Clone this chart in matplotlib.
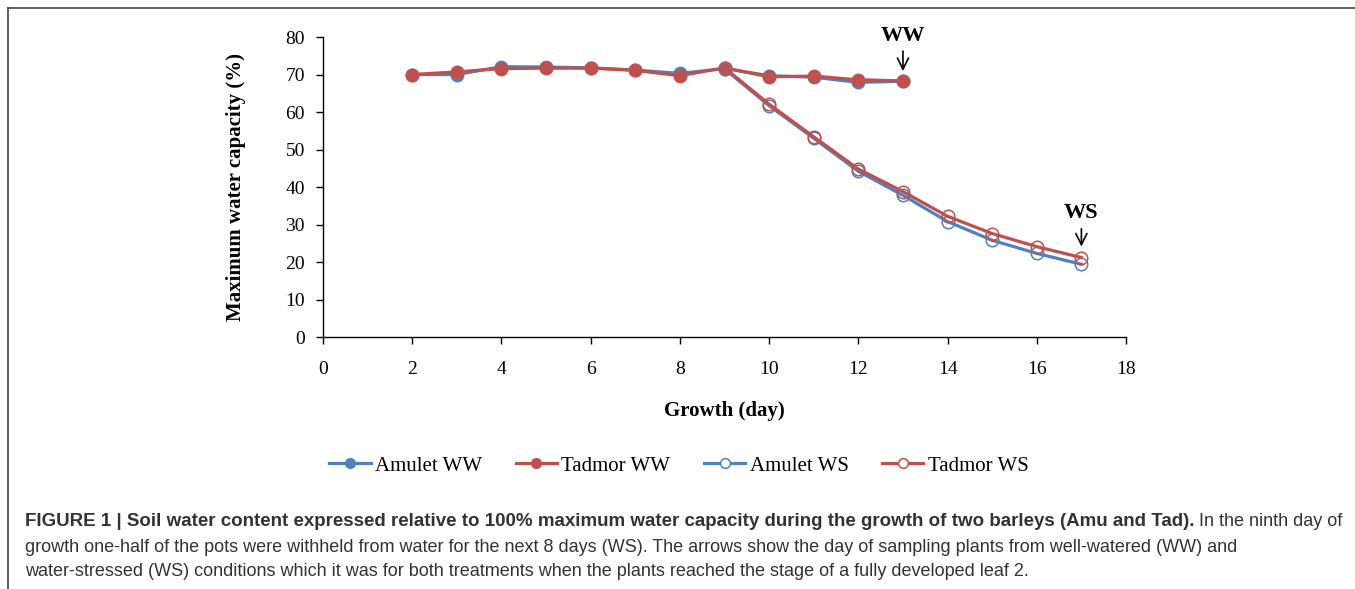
import matplotlib
matplotlib.use("Agg")
import matplotlib.pyplot as plt
from matplotlib.lines import Line2D

# soil water content (% of max water capacity)
days_ww = [2, 3, 4, 5, 6, 7, 8, 9, 10, 11, 12, 13]
amulet_ww = [70.0, 70.0, 72.1, 72.0, 71.8, 71.2, 70.3, 71.6, 69.7, 69.3, 67.9, 68.2]
tadmor_ww = [70.0, 70.7, 71.6, 71.7, 71.7, 71.1, 69.7, 71.8, 69.4, 69.6, 68.6, 68.3]

days_ws = [9, 10, 11, 12, 13, 14, 15, 16, 17]
amulet_ws = [71.5, 61.7, 53.0, 44.2, 37.8, 30.8, 25.8, 22.3, 19.4]
tadmor_ws = [71.8, 62.1, 53.4, 44.8, 38.8, 32.2, 27.6, 24.1, 21.2]

xticks = [0, 2, 4, 6, 8, 10, 12, 14, 16, 18]
yticks = [0, 10, 20, 30, 40, 50, 60, 70, 80]

blue = "#4F81BD"
red = "#C0504D"
serif = "Liberation Serif"
sans = "Liberation Sans"

fig = plt.figure(figsize=(13.55, 5.89), dpi=100)
ax = fig.add_axes([0.2384, 0.4278, 0.5926, 0.5093])

ax.plot(days_ww, amulet_ww, color=blue, lw=2.3, marker="o", ms=9, label="Amulet WW")
ax.plot(days_ww, tadmor_ww, color=red, lw=2.3, marker="o", ms=9, label="Tadmor WW")
ax.plot(days_ws, amulet_ws, color=blue, lw=2.3, marker="o", ms=9, mfc="none",
        mec=blue, mew=1.1, label="Amulet WS")
ax.plot(days_ws, tadmor_ws, color=red, lw=2.3, marker="o", ms=9, mfc="none",
        mec=red, mew=1.1, label="Tadmor WS")

ax.set_xlim(0, 18)
ax.set_ylim(0, 80)
ax.set_xticks(xticks)
ax.set_yticks(yticks)
for s in ["top", "right"]:
    ax.spines[s].set_visible(False)
for s in ["left", "bottom"]:
    ax.spines[s].set_linewidth(1.0)
ax.tick_params(direction="out", length=5, width=1.0, labelsize=14, pad=8)
ax.tick_params(axis="x", pad=12)
for lab in ax.get_xticklabels() + ax.get_yticklabels():
    lab.set_fontfamily(serif)

ax.set_xlabel("Growth (day)", fontsize=15, fontweight="bold", family=serif, labelpad=17)
ax.set_ylabel("Maximum water capacity (%)", fontsize=15, fontweight="bold", family=serif, labelpad=28)

# sampling arrows
arrow = dict(arrowstyle="->,head_length=0.5,head_width=0.25", color="black", lw=1.2)
ax.annotate("", xy=(13, 70.2), xytext=(13, 77.0), arrowprops=arrow,
            annotation_clip=False, size=16)
ax.text(13, 77.6, "WW", ha="center", va="bottom", fontsize=16, fontweight="bold",
        family=serif, clip_on=False)
ax.annotate("", xy=(17, 23.4), xytext=(17, 29.6), arrowprops=arrow,
            annotation_clip=False, size=16)
ax.text(17, 30.3, "WS", ha="center", va="bottom", fontsize=16, fontweight="bold",
        family=serif, clip_on=False)

handles = [
    Line2D([], [], color=blue, lw=2.3, marker="o", ms=7),
    Line2D([], [], color=red, lw=2.3, marker="o", ms=7),
    Line2D([], [], color=blue, lw=2.3, marker="o", ms=7, mfc="white", mec=blue, mew=1.1),
    Line2D([], [], color=red, lw=2.3, marker="o", ms=7, mfc="white", mec=red, mew=1.1),
]
labels = ["Amulet WW", "Tadmor WW", "Amulet WS", "Tadmor WS"]
fig.legend(handles, labels, loc="center", bbox_to_anchor=(0.501, 0.209), ncol=4,
           frameon=False, prop={"family": serif, "size": 15}, handlelength=2.0,
           handletextpad=0.2, columnspacing=1.6)

# figure frame (top and left)
fig.add_artist(Line2D([8 / 1355, 1], [1 - 8 / 589, 1 - 8 / 589], transform=fig.transFigure,
                      color="#444444", lw=1.2))
fig.add_artist(Line2D([8 / 1355, 8 / 1355], [0, 1 - 8 / 589], transform=fig.transFigure,
                      color="#444444", lw=1.2))

# caption
cap_col = "#333333"
cap_size = 13
t1 = fig.text(25 / 1355, 1 - 522 / 589,
              "FIGURE 1 | Soil water content expressed relative to 100% maximum water capacity "
              "during the growth of two barleys (Amu and Tad).",
              fontsize=13.5, fontweight="bold", family=sans, color=cap_col, va="center")
fig.draw_without_rendering()
bb = t1.get_window_extent()
fig.text(bb.x1 / fig.bbox.width, 1 - 522 / 589, " In the ninth day of", fontsize=cap_size,
         family=sans, color=cap_col, va="center")
fig.text(25 / 1355, 1 - 547 / 589,
         "growth one-half of the pots were withheld from water for the next 8 days (WS). "
         "The arrows show the day of sampling plants from well-watered (WW) and",
         fontsize=cap_size, family=sans, color=cap_col, va="center")
fig.text(25 / 1355, 1 - 572 / 589,
         "water-stressed (WS) conditions which it was for both treatments when the plants "
         "reached the stage of a fully developed leaf 2.",
         fontsize=cap_size, family=sans, color=cap_col, va="center")

fig.savefig("out.png", dpi=100)
